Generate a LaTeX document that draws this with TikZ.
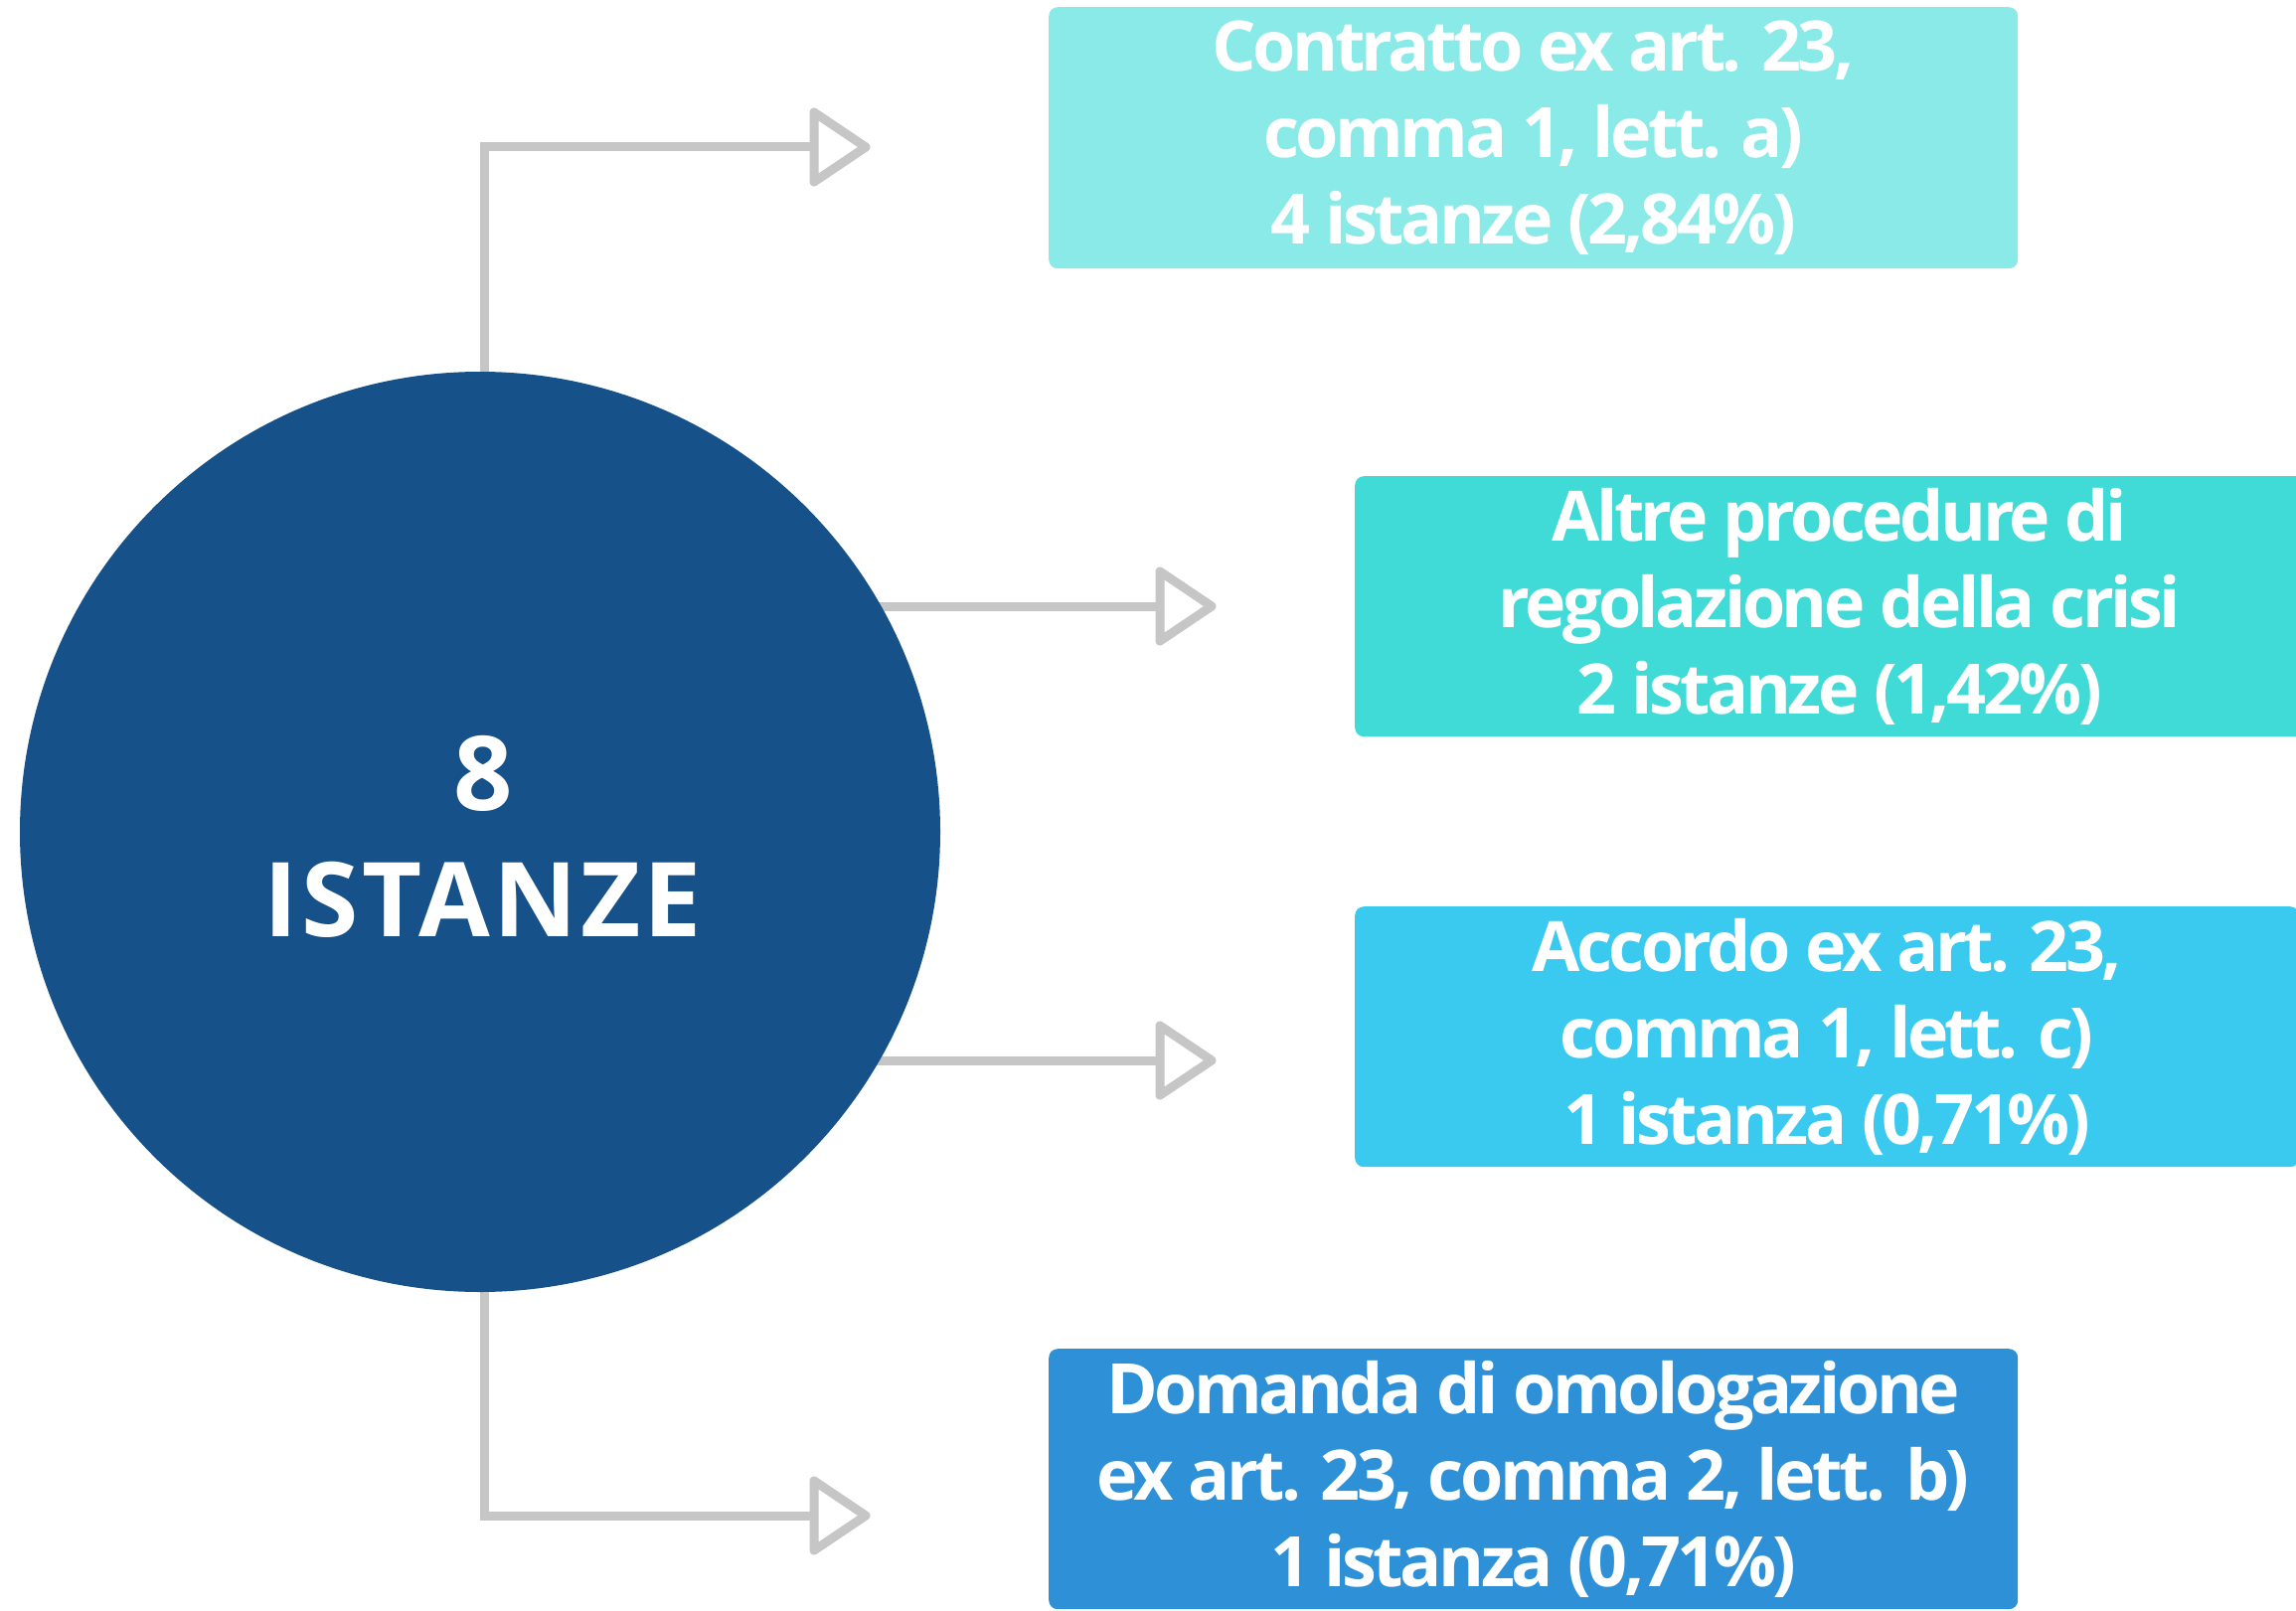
\documentclass[tikz,border=0pt]{standalone}
\usepackage{fontspec}
\setmainfont{Open Sans}
\usetikzlibrary{backgrounds}
\definecolor{circblue}{HTML}{165289}
\definecolor{boxa}{HTML}{89EAE8}
\definecolor{boxb}{HTML}{40DAD7}
\definecolor{boxc}{HTML}{3AC9EF}
\definecolor{boxd}{HTML}{2E90D6}
\definecolor{linegrey}{HTML}{C6C6C6}
\begin{document}
\begin{tikzpicture}[x=1pt,y=-1pt,
  box/.style={rectangle, rounded corners=9pt, inner sep=0pt, text=white, align=center,
    font=\fontsize{70}{87}\selectfont\bfseries\addfontfeatures{LetterSpace=-5}, anchor=north west},
  conn/.style={draw=linegrey, line width=9pt},
  headstyle/.style={draw=linegrey, line width=9pt, line join=round, fill=white}]
\clip (0,0) rectangle (2310,1621);
% boxes
\node[box, fill=boxa, minimum width=975pt, minimum height=263pt] (b1) at (1055,7)
  {Contratto ex art. 23,\\comma 1, lett. a)\\4 istanze (2,84\%)};
\node[box, fill=boxb, minimum width=975pt, minimum height=262pt] (b2) at (1363,479)
  {Altre procedure di\\regolazione della crisi\\2 istanze (1,42\%)};
\node[box, fill=boxc, minimum width=950pt, minimum height=262pt] (b3) at (1363,912)
  {Accordo ex art. 23,\\comma 1, lett. c)\\1 istanza (0,71\%)};
\node[box, fill=boxd, minimum width=975pt, minimum height=262pt] (b4) at (1055,1357)
  {Domanda di omologazione\\ex art. 23, comma 2, lett. b)\\1 istanza (0,71\%)};
% circle
\node[circle, fill=circblue, minimum size=926pt, inner sep=0pt] (circ) at (483,837) {};
\node[text=white, align=center, font=\fontsize{104}{127}\selectfont\bfseries\addfontfeatures{LetterSpace=3.3}] (ctext) at (486,842) {8\\ISTANZE};
% arrow bases
\coordinate (a1) at (819,148);
\coordinate (a2) at (1167,610);
\coordinate (a3) at (1167,1067);
\coordinate (a4) at (819,1525);
% connectors
\begin{scope}[on background layer]
\fill[white] (0,0) rectangle (2310,1621);
\draw[conn] ([xshift=4pt]circ.north) |- (a1);
\draw[conn] (circ.center |- a2) -- (a2);
\draw[conn] (circ.center |- a3) -- (a3);
\draw[conn] ([xshift=4pt]circ.south) |- (a4);
\end{scope}
% open triangle heads
\foreach \c in {a1,a2,a3,a4}
  \draw[headstyle] (\c) ++(0,-35) -- ++(52,35) -- ++(-52,35) -- cycle;
\end{tikzpicture}
\end{document}
